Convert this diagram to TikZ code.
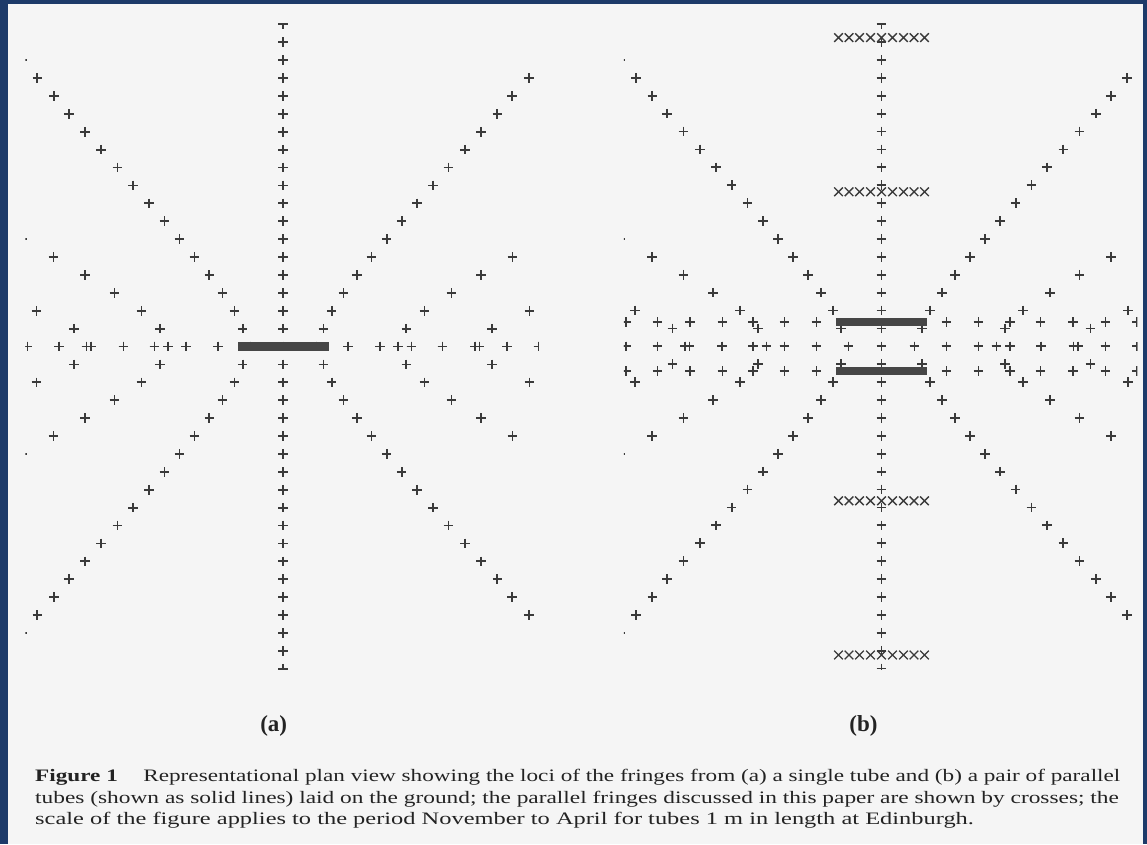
\documentclass[tikz,border=0pt]{standalone}
\usepackage{fontspec}
\setmainfont{Liberation Serif}
\usepackage{graphicx}
\definecolor{navy}{RGB}{29,58,105}
\definecolor{paper}{RGB}{245,245,245}
\definecolor{markcol}{RGB}{58,58,58}
\definecolor{tubecol}{RGB}{70,70,70}
\definecolor{textcol}{RGB}{35,35,35}
\tikzset{
  plusmk/.style={draw=markcol, line width=1.8pt},
  xmk/.style={draw=markcol, line width=1.35pt},
  pl/.pic={\draw[plusmk] (-4.8,0)--(4.8,0) (0,-4.8)--(0,4.8);},
  xm/.pic={\draw[xmk] (-4.3,-4.3)--(4.3,4.3) (-4.3,4.3)--(4.3,-4.3);},
  tube/.style={fill=tubecol},
  panellabel/.style={font=\fontsize{23}{26}\selectfont\bfseries, text=textcol, inner sep=0pt, anchor=base},
  captionline/.style={font=\fontsize{17.5}{21}\selectfont, text=textcol, inner sep=0pt, anchor=base west}
}
\newcommand\quadpl[2]{%
  \pic at (#1,#2) {pl}; \pic at (-#1,#2) {pl};
  \pic at (#1,-#2) {pl}; \pic at (-#1,-#2) {pl};}
\newcommand\xxrow[1]{%
  \foreach \xx in {-43,-32.5,-22,-11,0,11,22,32.5,43} {\pic at (\xx,#1) {xm};}}
\newcommand\fringepattern{%
  \foreach \k in {-18,...,18} {\pic at (0,\k*17.9) {pl};}
  \foreach \k/\d in {1/40.4,2/48.6,3/60.5,4/73.7,5/88.5,6/103.6,7/118.6,8/134.1,9/149.9,10/165.5,11/181.8,12/198,13/214.3,14/229.2,15/245.7,16/261.2}
    {\quadpl{\d}{\k*17.9}}
  \foreach \k/\d in {0/115,1/123.3,2/141.5,3/168.5,4/198,5/229.5,6/261.2}
    {\quadpl{\d}{\k*17.9}}
  \foreach \k/\d in {0/196.5,1/209,2/246.5}
    {\quadpl{\d}{\k*17.9}}
  \foreach \d in {33,65,97,128.5,159.5,192,224,255.5}
    {\quadpl{\d}{0}}
}
\begin{document}
\begin{tikzpicture}[x=1pt,y=-1pt]
\useasboundingbox (0,0) rectangle (1147,844);
\fill[navy] (0,0) rectangle (1147,844);
\fill[paper] (8.3,4) rectangle (1143,844);

% ---------- panel (a) ----------
\begin{scope}[shift={(283,346.5)}]
  \begin{scope}
    \clip (-257.6,-322.9) rectangle (255.8,322.9);
    \fringepattern
  \end{scope}
  \fill[tube] (-45.5,-4.3) rectangle (45.5,4.3);
\end{scope}

% ---------- panel (b) ----------
\begin{scope}[shift={(881.5,346.3)}]
  \begin{scope}
    \clip (-257.6,-322.9) rectangle (255.8,322.9);
    \fringepattern
    \foreach \d in {65,97,128.5,159,191.3,224,255.5} {\quadpl{\d}{24.5}}
    \xxrow{-308.7}
    \xxrow{-154.5}
    \xxrow{154.5}
    \xxrow{308.7}
  \end{scope}
  \fill[tube] (-45.5,-28.5) rectangle (45.5,-20.5);
  \fill[tube] (-45.5,20.5) rectangle (45.5,28.5);
\end{scope}

% ---------- labels ----------
\node[panellabel] (lbla) at (273.7,731.5) {(a)};
\node[panellabel] (lblb) at (863.5,731.5) {(b)};

% ---------- caption ----------
\node[captionline] (cap1) at (35,781.5) {\resizebox{1085pt}{\height}{\textbf{Figure 1}\hspace{1.1em}Representational plan view showing the loci of the fringes from (a) a single tube and (b) a pair of parallel}};
\node[captionline] (cap2) at (35,803) {\resizebox{1083.7pt}{\height}{tubes (shown as solid lines) laid on the ground; the parallel fringes discussed in this paper are shown by crosses; the}};
\node[captionline] (cap3) at (35,824.5) {\resizebox{938.7pt}{\height}{scale of the figure applies to the period November to April for tubes 1 m in length at Edinburgh.}};
\end{tikzpicture}
\end{document}
